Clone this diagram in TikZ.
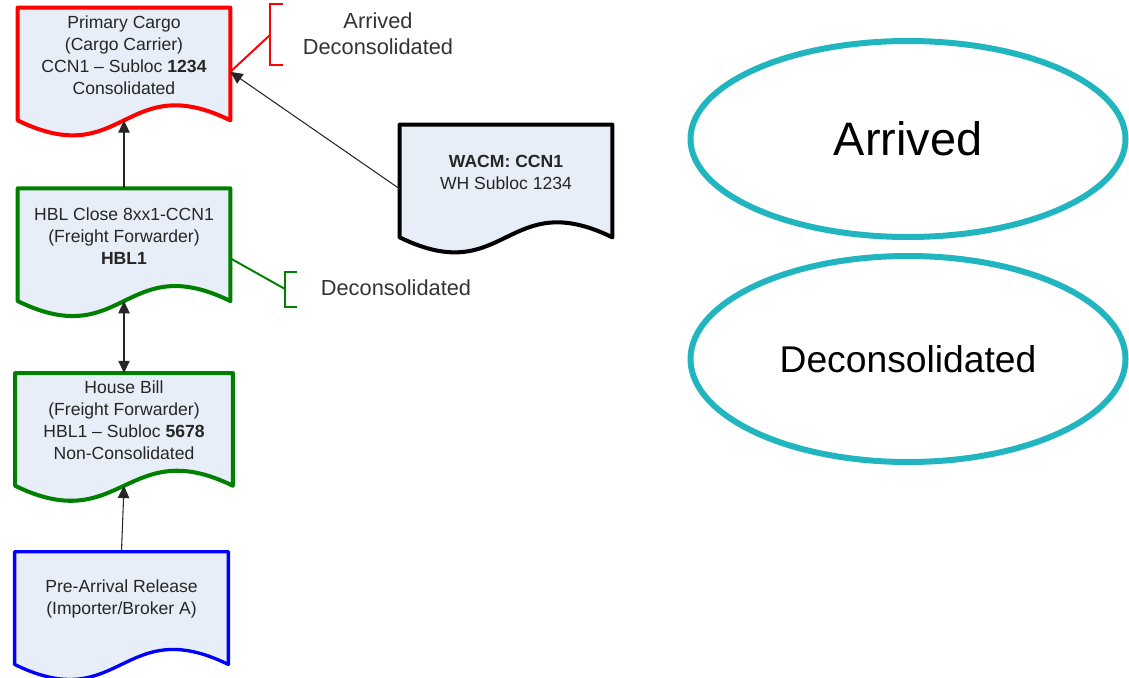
\documentclass[tikz,border=0pt]{standalone}
\usepackage{fontspec}
\setmainfont{Liberation Sans}
\usetikzlibrary{shapes.geometric, arrows.meta, positioning, backgrounds}
\definecolor{docfill}{RGB}{232,238,248}
\definecolor{statecyan}{RGB}{33,182,191}
\definecolor{hblgreen}{RGB}{0,128,0}
\tikzstyle{doc} =[rectangle, minimum width=4.24cm, minimum height=1.88cm, inner sep=2pt, align=center, text=black!85, font=\fontsize{10}{12.5}\selectfont]
\tikzstyle{state} =[ellipse, draw=statecyan, line width=0.12cm, minimum width=8.7cm, minimum height=3.92cm, text=black]
\tikzstyle{tag} =[align=center, text=black!80, font=\fontsize{12.4}{14.8}\selectfont]
\tikzstyle{arrow} =[line width=0.6pt, black!85, -{Triangle[length=7pt,width=6.5pt]}]
\tikzstyle{dblarrow} =[line width=0.6pt, black!85, {Triangle[length=7pt,width=6.5pt]}-{Triangle[length=7pt,width=6.5pt]}]
\tikzstyle{bracket} =[line width=1.1pt]

\begin{document}
\begin{tikzpicture}
\useasboundingbox (0,0) rectangle (22.58,-13.54);

% documents
\node (cargo) [doc] at (2.48,-1.10) {Primary Cargo\\(Cargo Carrier)\\CCN1 \textendash{} Subloc \textbf{1234}\\Consolidated};
\node (hbl) [doc, below=1.72cm of cargo] {HBL Close 8xx1-CCN1\\(Freight Forwarder)\\\textbf{HBL1}};
\node (house) [doc, minimum width=4.34cm, below=1.8cm of hbl] {House Bill\\(Freight Forwarder)\\HBL1 \textendash{} Subloc \textbf{5678}\\Non-Consolidated};
\node (pre) [doc, minimum width=4.26cm, below=1.68cm of house, xshift=-0.05cm] {Pre-Arrival Release\\(Importer/Broker A)};
\node (wacm) [doc] at (10.12,-3.44) {\textbf{WACM: CCN1}\\WH Subloc 1234};

\begin{scope}[on background layer]
\foreach \n/\c/\w in {cargo/red/2.3pt, hbl/hblgreen/2.3pt, house/hblgreen/2.3pt, pre/blue/1.9pt, wacm/black/2.3pt}
  \draw[draw=\c, fill=docfill, line width=\w, line join=round] (\n.north west) -- (\n.north east) -- ([yshift=-0.36cm]\n.south east) .. controls +(-2.12,1.04) and +(2.12,-1.04) .. ([yshift=-0.36cm]\n.south west) -- cycle;
\end{scope}

% states
\node (arrived) [state, font=\fontsize{26.7}{30}\selectfont] at (18.16,-2.78) {Arrived};
\node (decon) [state, minimum height=4.12cm, font=\fontsize{21.2}{24}\selectfont] at (18.16,-7.18) {Deconsolidated};

% brackets
\coordinate (rbr) at (5.40,-0.70);
\draw [bracket, red] (cargo.-9) -- (rbr);
\draw [bracket, red] ([shift={(0.26,0.62)}]rbr) -| ([yshift=-0.60cm]rbr) -- ++(0.26,0);
\node (arrtag) [tag] at (7.56,-0.68) {Arrived\\Deconsolidated};

\coordinate (gbr) at (5.70,-5.78);
\draw [bracket, hblgreen] (hbl.-12) -- (gbr);
\draw [bracket, hblgreen] ([shift={(0.24,0.34)}]gbr) -| ([yshift=-0.36cm]gbr) -- ++(0.24,0);
\node (dectag) [tag] at (7.92,-5.76) {Deconsolidated};

% links
\draw [arrow] (hbl.north) -- ([yshift=-0.36cm]cargo.south);
\draw [dblarrow] ([yshift=-0.36cm]hbl.south) -- (house.north);
\draw [arrow] (pre.north) -- ([yshift=-0.36cm]house.south);
\draw [arrow] (wacm.-171) -- (cargo.-9);
\end{tikzpicture}
\end{document}
